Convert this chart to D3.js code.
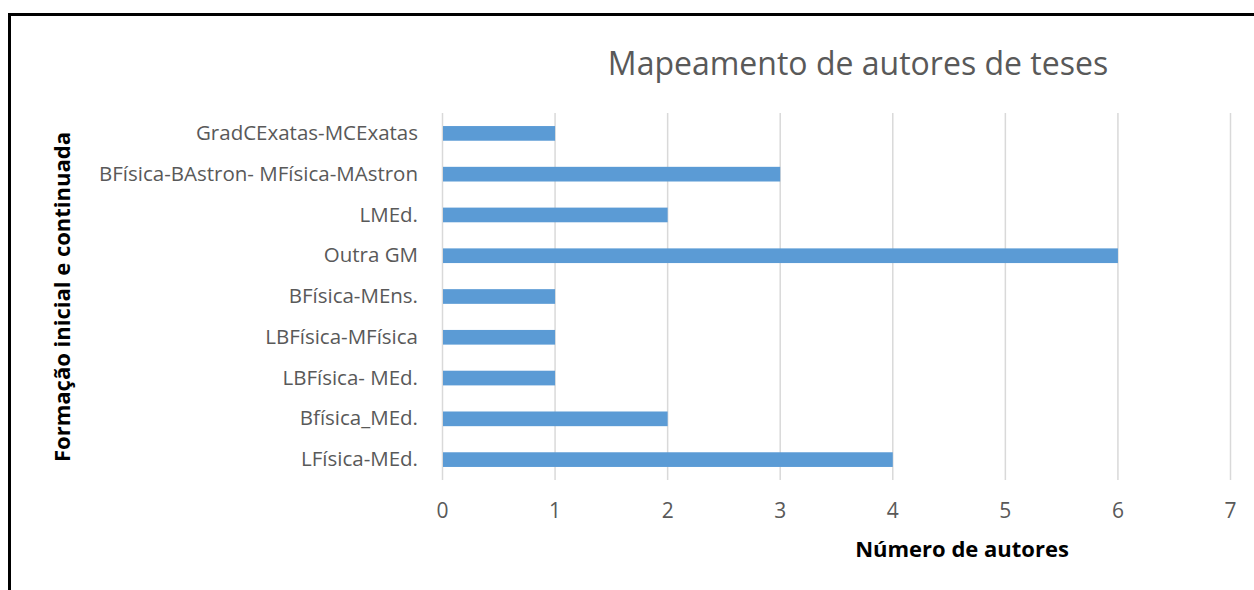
<!DOCTYPE html>
<html>
<head>
<meta charset="utf-8">
<script src="https://cdn.jsdelivr.net/npm/d3@7"></script>
<style>
  body { margin: 0; background: #fff; }
  svg { display: block; font-family: "Open Sans", sans-serif; }
</style>
</head>
<body>
<div id="wrapper"></div>
<script>
// data (top to bottom)
var categories = [
  "GradCExatas-MCExatas",
  "BFísica-BAstron- MFísica-MAstron",
  "LMEd.",
  "Outra GM",
  "BFísica-MEns.",
  "LBFísica-MFísica",
  "LBFísica- MEd.",
  "Bfísica_MEd.",
  "LFísica-MEd."
];
var values = [1, 3, 2, 6, 1, 1, 1, 2, 4];
var xTicks = [0, 1, 2, 3, 4, 5, 6, 7];

var titleText = "Mapeamento de autores de teses";
var xTitle = "Número de autores";
var yTitle = "Formação inicial e continuada";

var W = 1254, H = 590;
var margin = {top: 113, right: 24, bottom: 110, left: 442},
    width = W - margin.left - margin.right,
    height = H - margin.top - margin.bottom;

var data = categories.map(function (c, i) { return {name: c, value: values[i]}; });

var svg = d3.select("#wrapper").append("svg")
    .attr("width", W)
    .attr("height", H);

// frame (only left and top edges show in the picture)
svg.append("path")
    .attr("d", "M9.5," + H + "V14.5H" + W)
    .attr("fill", "none")
    .attr("stroke", "#000")
    .attr("stroke-width", 3);

var g = svg.append("g")
    .attr("transform", "translate(" + margin.left + "," + margin.top + ")");

var x = d3.scaleLinear().domain([0, 7]).range([0, 788]);
var y = d3.scaleBand()
    .domain(categories)
    .range([0, 367])
    .paddingInner(0.64)
    .paddingOuter(0.32);

// gridlines
g.selectAll(".grid")
    .data(xTicks)
  .enter().append("line")
    .attr("class", "grid")
    .attr("x1", function (d) { return x(d) + 0.5; })
    .attr("x2", function (d) { return x(d) + 0.5; })
    .attr("y1", 0)
    .attr("y2", 367)
    .attr("stroke", "#d9d9d9")
    .attr("stroke-width", 1.5);

// bars
g.selectAll(".bar")
    .data(data)
  .enter().append("rect")
    .attr("class", "bar")
    .attr("x", x(0) + 1)
    .attr("y", function (d) { return y(d.name); })
    .attr("width", function (d) { return x(d.value) - x(0) - 0.5; })
    .attr("height", y.bandwidth())
    .attr("fill", "#5b9bd5");

// x axis labels
var xAxis = g.append("g")
    .attr("transform", "translate(0,367)")
    .call(d3.axisBottom(x).tickValues(xTicks).tickSize(0).tickPadding(23).tickFormat(d3.format("d")));
xAxis.select(".domain").remove();
xAxis.selectAll("text")
    .attr("fill", "#595959")
    .style("font-size", "21px")
    .style("font-family", "'Open Sans', sans-serif");

// y axis labels
var yAxis = g.append("g")
    .call(d3.axisLeft(y).tickSize(0).tickPadding(24));
yAxis.select(".domain").remove();
yAxis.selectAll("text")
    .attr("fill", "#595959")
    .style("font-size", "20.5px")
    .style("font-family", "'Open Sans', sans-serif");

// title
svg.append("text")
    .attr("x", 858)
    .attr("y", 75)
    .attr("text-anchor", "middle")
    .attr("fill", "#595959")
    .style("font-size", "32px")
    .text(titleText);

// x title
svg.append("text")
    .attr("x", 962)
    .attr("y", 557)
    .attr("text-anchor", "middle")
    .attr("fill", "#000")
    .style("font-size", "22px")
    .style("font-weight", "bold")
    .text(xTitle);

// y title
svg.append("text")
    .attr("transform", "translate(70,297) rotate(-90)")
    .attr("text-anchor", "middle")
    .attr("fill", "#000")
    .style("font-size", "22px")
    .style("font-weight", "bold")
    .text(yTitle);
</script>
</body>
</html>
